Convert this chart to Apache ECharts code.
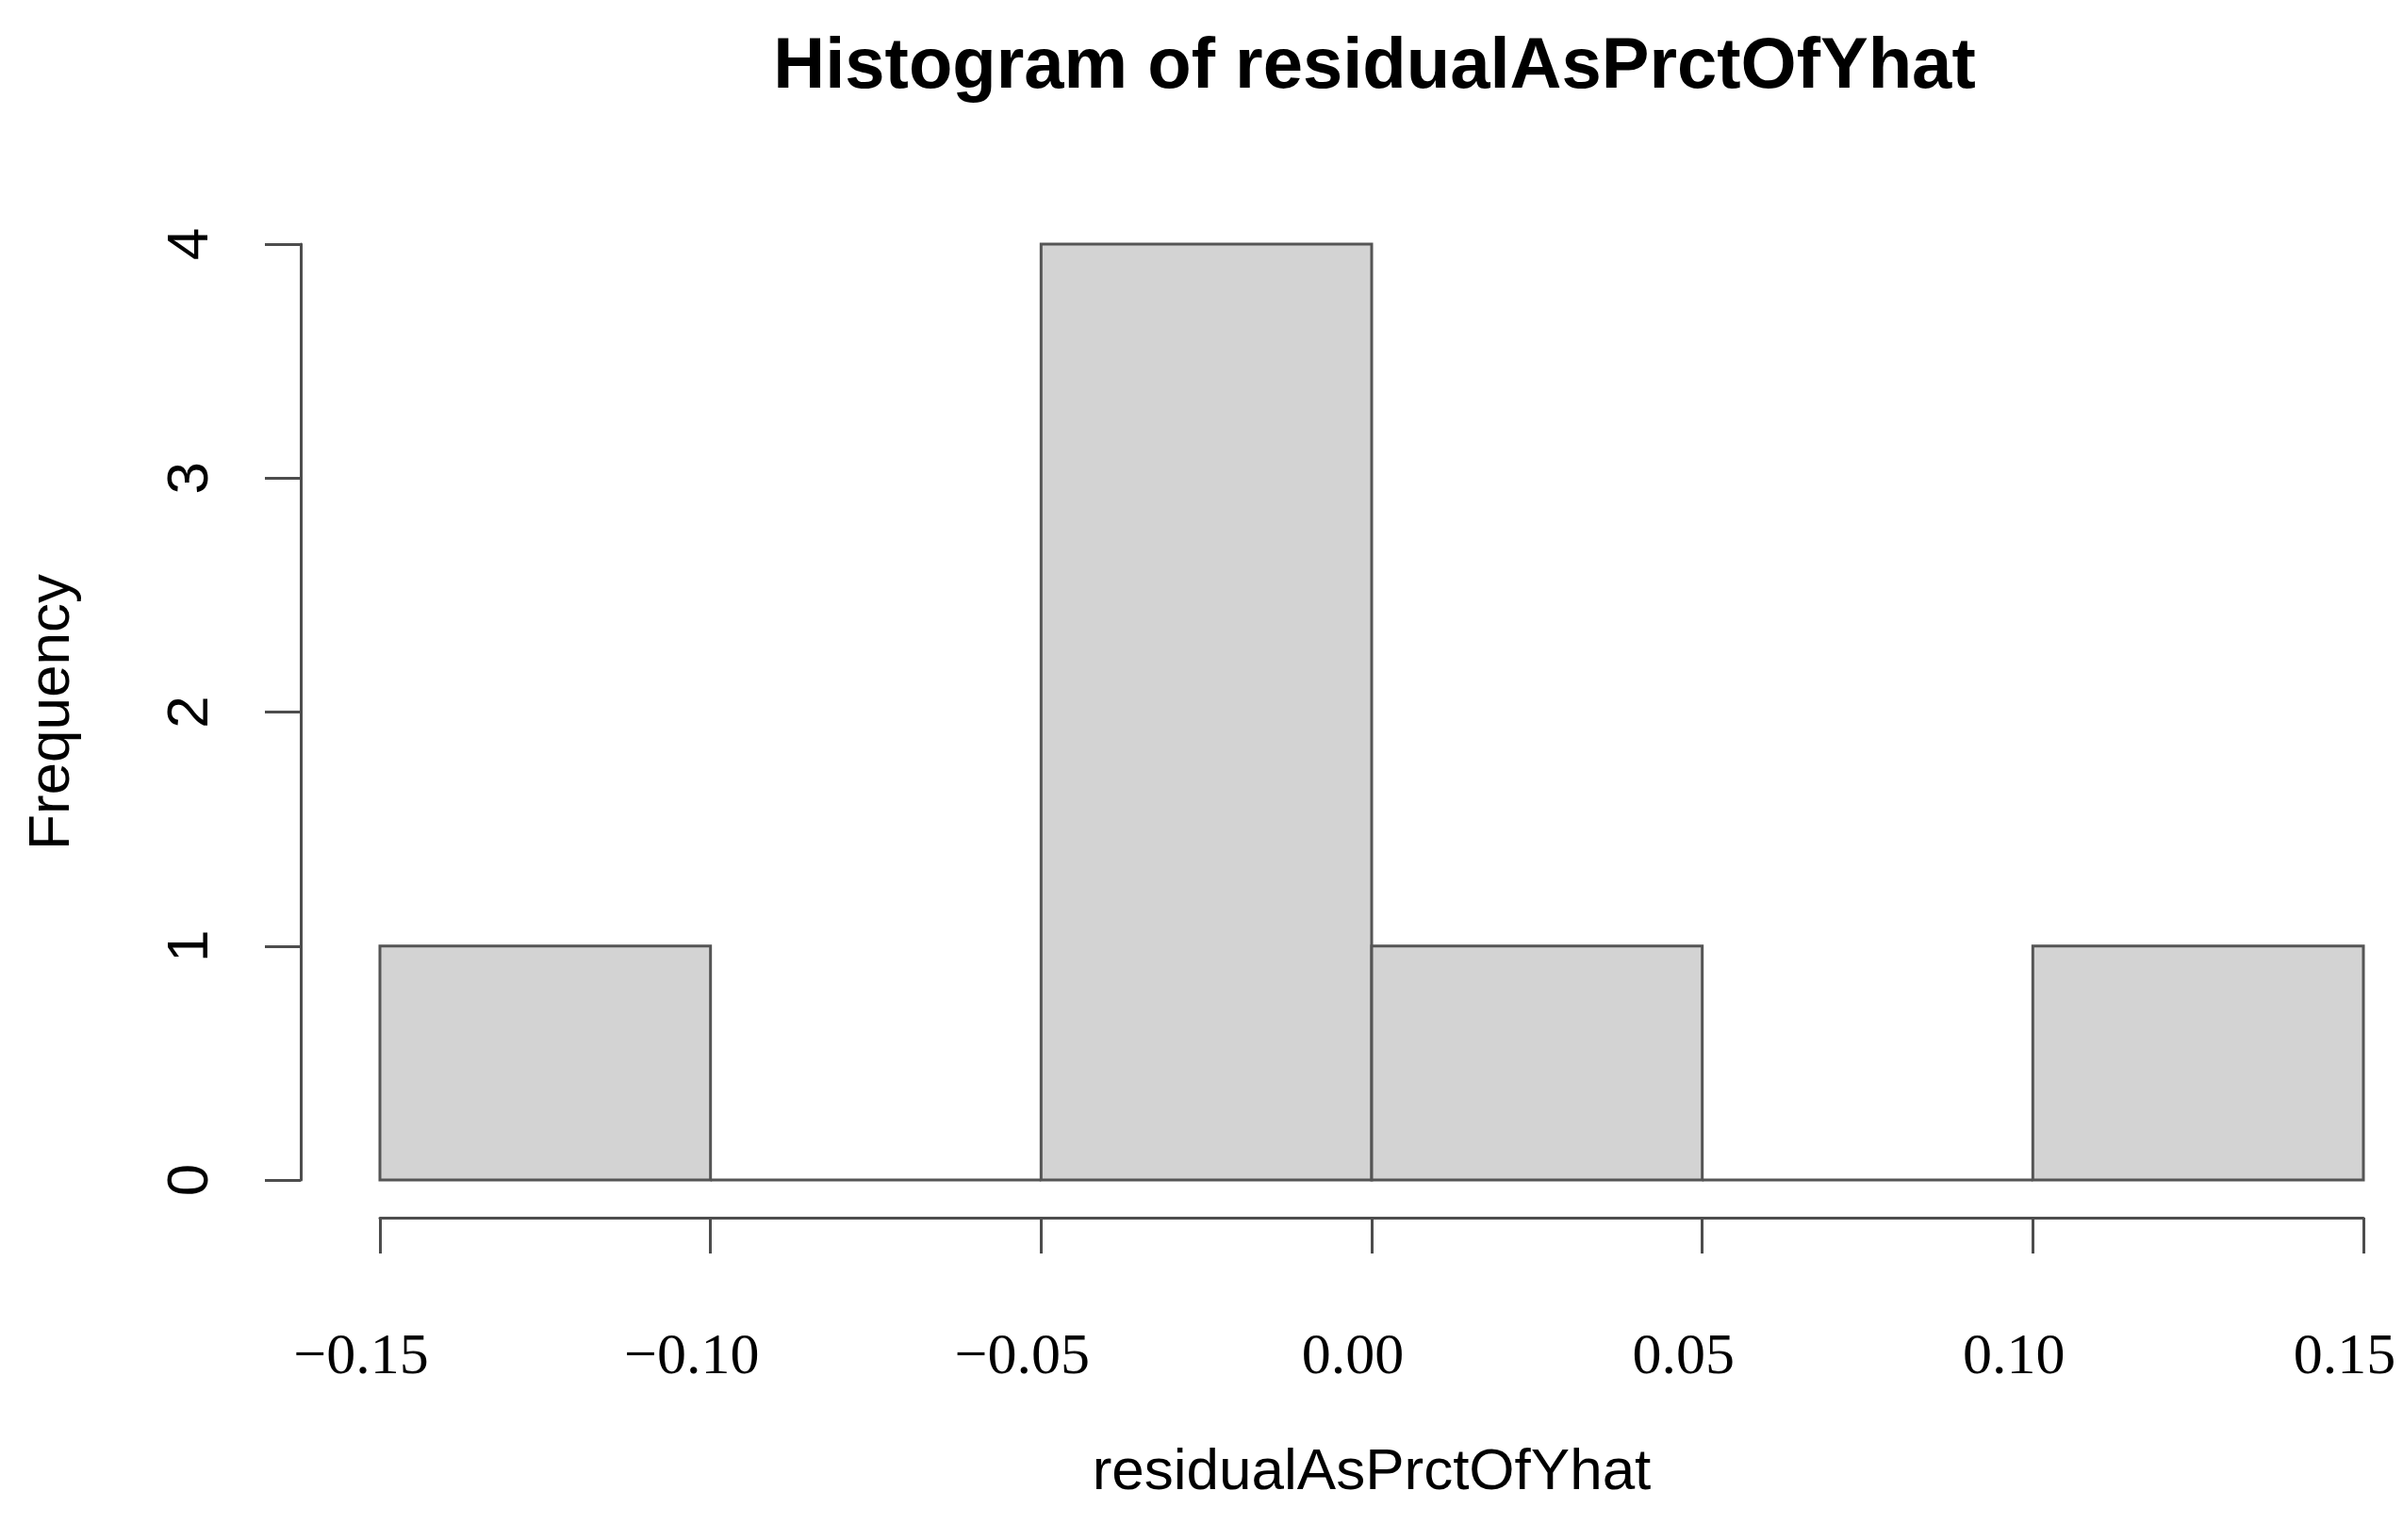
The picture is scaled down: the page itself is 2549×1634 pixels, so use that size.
<!DOCTYPE html>
<html>
<head>
<meta charset="utf-8">
<script src="https://cdn.jsdelivr.net/npm/echarts@6/dist/echarts.min.js"></script>
<style>
html,body{margin:0;padding:0;background:#fff;}
#chart{width:2549px;height:1634px;}
</style>
</head>
<body>
<div id="chart"></div>
<script>
const titleText = 'Histogram of residualAsPrctOfYhat';
const xName = 'residualAsPrctOfYhat';
const yName = 'Frequency';
const binStarts = [-0.15, -0.10, -0.05, 0.00, 0.05, 0.10];
const binEnds   = [-0.10, -0.05, 0.00, 0.05, 0.10, 0.15];
const counts    = [1, 0, 4, 1, 0, 1];
const xTickLabels = ['\u22120.15', '\u22120.10', '\u22120.05', '0.00', '0.05', '0.10', '0.15'];
const yTickLabels = ['0', '1', '2', '3', '4'];

const xMin = -0.15, xMax = 0.15, xStep = 0.05;
const axisColor = '#4d4d4d';

const chart = echarts.init(document.getElementById('chart'), null, {renderer: 'canvas'});
chart.setOption({
  backgroundColor: '#ffffff',
  animation: false,
  title: {
    text: titleText,
    left: 1453,
    top: 29,
    textAlign: 'center',
    textStyle: {fontFamily: 'Liberation Sans', fontWeight: 'bold', fontSize: 76, color: '#000'}
  },
  grid: {left: 403, right: 2549 - 2507, top: 259, bottom: 1634 - 1252, containLabel: false, outerBoundsMode: 'none'},
  xAxis: {
    type: 'value',
    min: xMin, max: xMax, interval: xStep,
    offset: 40,
    name: xName,
    nameLocation: 'middle',
    nameGap: 240,
    nameTextStyle: {fontFamily: 'Liberation Sans', fontSize: 62, color: '#000'},
    axisLine: {show: true, onZero: false, lineStyle: {color: axisColor, width: 3}},
    axisTick: {show: true, length: 38, inside: false, lineStyle: {color: axisColor, width: 3}},
    splitLine: {show: false},
    axisLabel: {
      margin: 118,
      padding: [0, 40, 0, 0],
      hideOverlap: false,
      showMinLabel: true,
      showMaxLabel: true,
      fontFamily: 'Liberation Serif', fontSize: 62, color: '#000',
      formatter: function (v) { return xTickLabels[Math.round((v - xMin) / xStep)]; }
    }
  },
  yAxis: {
    type: 'value',
    min: 0, max: 4, interval: 1,
    offset: 84,
    name: yName,
    nameLocation: 'middle',
    nameGap: 232,
    nameRotate: 90,
    nameTextStyle: {fontFamily: 'Liberation Sans', fontSize: 62, color: '#000'},
    axisLine: {show: true, onZero: false, lineStyle: {color: axisColor, width: 3}},
    axisTick: {show: true, length: 38, inside: false, lineStyle: {color: axisColor, width: 3}},
    splitLine: {show: false},
    axisLabel: {
      rotate: 90,
      margin: 85,
      fontFamily: 'Liberation Sans', fontSize: 62, color: '#000',
      formatter: function (v) { return yTickLabels[Math.round(v)]; }
    }
  },
  series: [{
    type: 'custom',
    coordinateSystem: 'cartesian2d',
    data: binStarts.map((s, i) => [s, binEnds[i], counts[i]]),
    encode: {x: [0, 1], y: 2},
    renderItem: function (params, api) {
      const p0 = api.coord([api.value(0), 0]);
      const p1 = api.coord([api.value(1), api.value(2)]);
      return {
        type: 'rect',
        shape: {x: p0[0], y: p1[1], width: p1[0] - p0[0], height: p0[1] - p1[1]},
        style: {fill: '#d3d3d3', stroke: '#555555', lineWidth: 3}
      };
    }
  }]
});
</script>
</body>
</html>
